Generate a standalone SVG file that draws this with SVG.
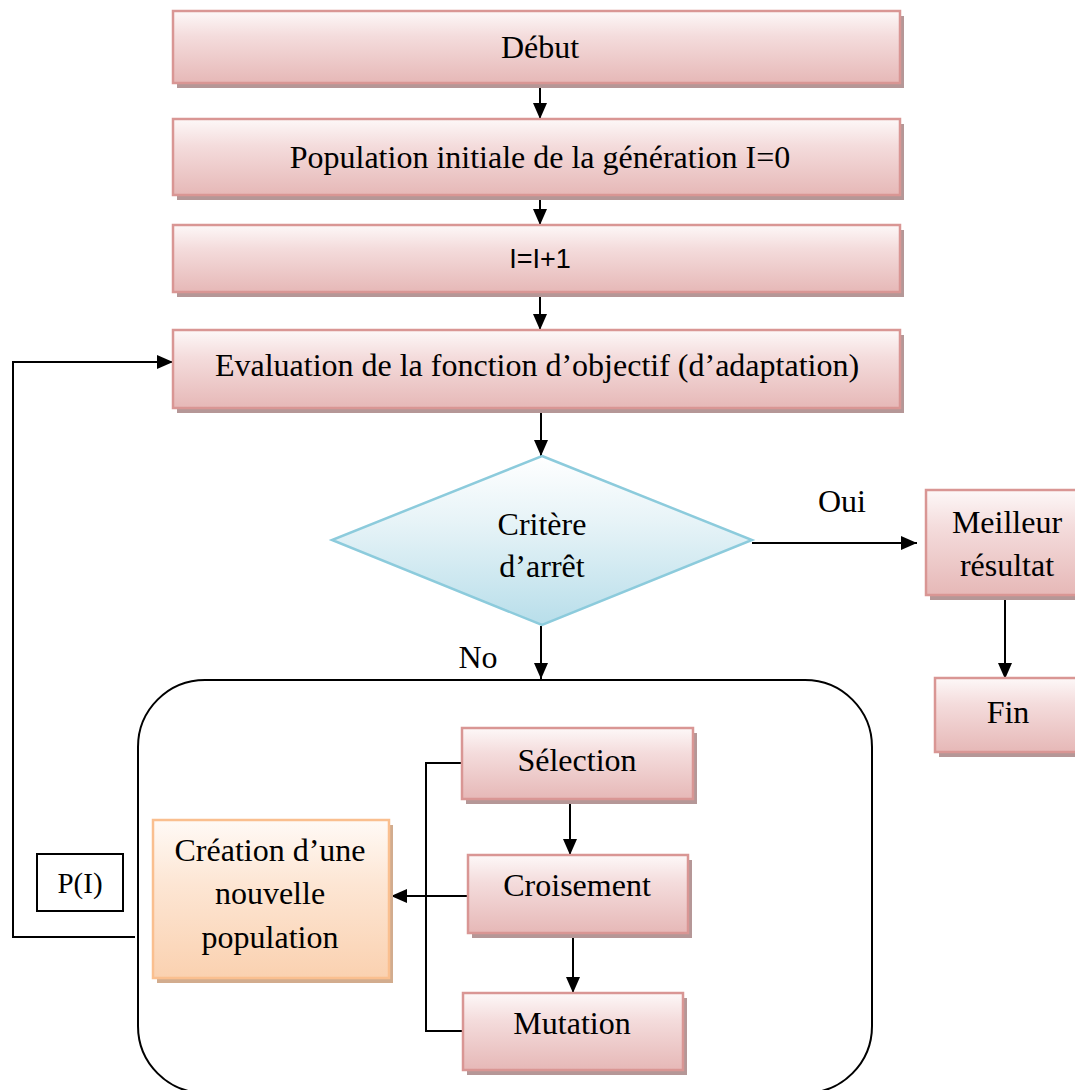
<svg xmlns="http://www.w3.org/2000/svg" width="1075" height="1090" viewBox="0 0 1075 1090">
<defs>
<linearGradient id="gPink" x1="0" y1="0" x2="0" y2="1">
<stop offset="0" stop-color="#fdf8f8"/>
<stop offset="0.35" stop-color="#f4dcdc"/>
<stop offset="1" stop-color="#e6b8b7"/>
</linearGradient>
<linearGradient id="gOrange" x1="0" y1="0" x2="0" y2="1">
<stop offset="0" stop-color="#fffaf6"/>
<stop offset="0.4" stop-color="#fde6d4"/>
<stop offset="1" stop-color="#fad1b0"/>
</linearGradient>
<linearGradient id="gBlue" x1="0" y1="0" x2="0" y2="1">
<stop offset="0" stop-color="#ffffff"/>
<stop offset="0.4" stop-color="#e6f3f7"/>
<stop offset="1" stop-color="#b8deea"/>
</linearGradient>
<marker id="arr" viewBox="0 0 12 12" refX="12" refY="6" markerWidth="12" markerHeight="12" markerUnits="userSpaceOnUse" orient="auto">
<path d="M0,0 L12,6 L0,12 Z" fill="#000"/>
</marker>
<marker id="arrBig" viewBox="0 0 16 14" refX="16" refY="7" markerWidth="16" markerHeight="14" markerUnits="userSpaceOnUse" orient="auto">
<path d="M0,0 L16,7 L0,14 Z" fill="#000"/>
</marker>
</defs>
<style>
.shadow{fill:#b59797;}
.shadowO{fill:#d2ac8e;}
.pink{fill:url(#gPink);stroke:#d99694;stroke-width:2.5;}
.orange{fill:url(#gOrange);stroke:#fabf8f;stroke-width:2.5;}
.dia{fill:url(#gBlue);stroke:#8ccbdc;stroke-width:2.5;}
.t{font-family:"Liberation Serif","Times New Roman",serif;font-size:32px;fill:#000;text-anchor:middle;}
.s{font-family:"Liberation Sans",Arial,sans-serif;font-size:27px;fill:#000;text-anchor:middle;}
.c{fill:none;stroke:#000;stroke-width:2;}
</style>
<rect width="1075" height="1090" fill="#fff"/>

<g id="connectors">
<line class="c" x1="540" y1="88" x2="540" y2="119" marker-end="url(#arrBig)"/>
<line class="c" x1="540" y1="199" x2="540" y2="225" marker-end="url(#arrBig)"/>
<line class="c" x1="540" y1="297" x2="540" y2="330" marker-end="url(#arrBig)"/>
<line class="c" x1="541" y1="413" x2="541" y2="456" marker-end="url(#arrBig)"/>
<line class="c" x1="752" y1="543" x2="917" y2="543" marker-end="url(#arrBig)"/>
<line class="c" x1="1005" y1="600" x2="1005" y2="679" marker-end="url(#arrBig)"/>
<line class="c" x1="541" y1="626" x2="541" y2="679" marker-end="url(#arrBig)"/>
<line class="c" x1="570" y1="803" x2="570" y2="855" marker-end="url(#arrBig)"/>
<line class="c" x1="573" y1="938" x2="573" y2="993" marker-end="url(#arrBig)"/>
<polyline class="c" points="462,763 426,763 426,1031 463,1031"/>
<line class="c" x1="468" y1="896" x2="391" y2="896" marker-end="url(#arrBig)"/>
<polyline class="c" points="135,937 13,937 13,362 173,362" marker-end="url(#arrBig)"/>
<text class="t" x="842" y="512">Oui</text>
<text class="t" x="478" y="668">No</text>
</g>

<g id="container">
<rect x="138" y="680" width="734" height="413" rx="67" ry="67" fill="none" stroke="#000" stroke-width="2"/>
</g>

<g id="debut">
<rect class="shadow" x="177" y="16" width="727" height="72"/>
<rect class="pink" x="173" y="11" width="727" height="72"/>
<text class="t" x="540" y="58">Début</text>
</g>

<g id="population">
<rect class="shadow" x="177" y="124" width="727" height="76"/>
<rect class="pink" x="173" y="119" width="727" height="76"/>
<text class="t" x="540" y="168">Population initiale de la génération I=0</text>
</g>

<g id="increment">
<rect class="shadow" x="177" y="230" width="727" height="67"/>
<rect class="pink" x="173" y="225" width="727" height="67"/>
<text class="s" x="540" y="268">I=I+1</text>
</g>

<g id="evaluation">
<rect class="shadow" x="177" y="335" width="727" height="78"/>
<rect class="pink" x="173" y="330" width="727" height="78"/>
<text class="t" x="537" y="376">Evaluation de la fonction d’objectif (d’adaptation)</text>
</g>

<g id="critere">
<polygon class="dia" points="542,456 752,540 542,625 332,540"/>
<text class="t" x="542" y="535">Critère</text>
<text class="t" x="542" y="577">d’arrêt</text>
</g>

<g id="meilleur">
<rect class="shadow" x="930" y="495" width="150" height="105"/>
<rect class="pink" x="926" y="490" width="154" height="105"/>
<text class="t" x="1007" y="533">Meilleur</text>
<text class="t" x="1007" y="576">résultat</text>
</g>

<g id="fin">
<rect class="shadow" x="939" y="683" width="140" height="74"/>
<rect class="pink" x="935" y="678" width="145" height="74"/>
<text class="t" x="1008" y="723">Fin</text>
</g>

<g id="selection">
<rect class="shadow" x="466" y="733" width="231" height="71"/>
<rect class="pink" x="462" y="728" width="231" height="71"/>
<text class="t" x="577" y="771">Sélection</text>
</g>

<g id="croisement">
<rect class="shadow" x="472" y="860" width="220" height="78"/>
<rect class="pink" x="468" y="855" width="220" height="78"/>
<text class="t" x="577" y="896">Croisement</text>
</g>

<g id="mutation">
<rect class="shadow" x="467" y="998" width="220" height="77"/>
<rect class="pink" x="463" y="993" width="220" height="77"/>
<text class="t" x="572" y="1034">Mutation</text>
</g>

<g id="creation">
<rect class="shadowO" x="157" y="825" width="236" height="158"/>
<rect class="orange" x="153" y="820" width="236" height="158"/>
<text class="t" x="270" y="861">Création d’une</text>
<text class="t" x="270" y="904">nouvelle</text>
<text class="t" x="270" y="948">population</text>
</g>

<g id="pi">
<rect x="37" y="854" width="86" height="57" fill="#fff" stroke="#000" stroke-width="2"/>
<text class="t" x="80" y="893" style="font-size:29px">P(I)</text>
</g>
</svg>
